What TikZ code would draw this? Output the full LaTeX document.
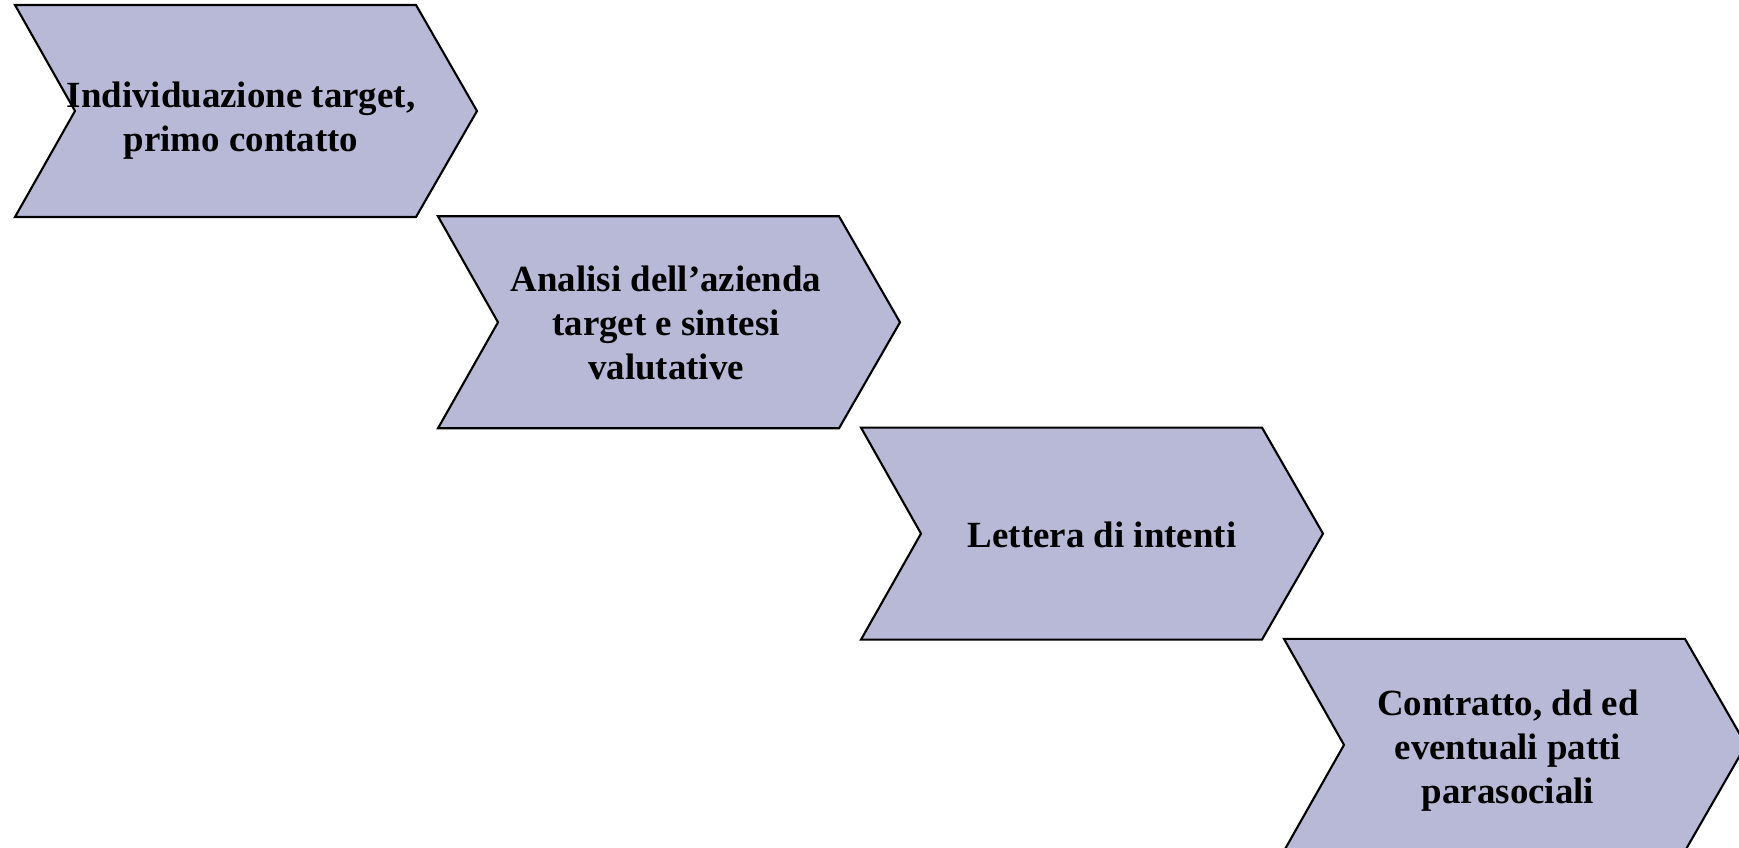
\documentclass[tikz,border=0pt]{standalone}
\usepackage{fontspec}
\setmainfont{Liberation Serif}
\definecolor{chevronfill}{RGB}{183,185,214}
\tikzset{
    chevron/.style={draw=black, fill=chevronfill, line width=1.2pt, line join=miter},
    fasetext/.style={align=center, inner sep=0pt, font=\bfseries\fontsize{21}{25}\selectfont}
}
\begin{document}
\begin{tikzpicture}[x=0.02cm, y=-0.02cm]
    % page:
    \useasboundingbox (0,0) rectangle (1739,848);

    % chevrons and texts:
    \foreach \i/\dx/\dy/\testo in {0/-7/6/{Individuazione target,\\primo contatto},
                                  1/-5/-3/{Analisi dell’azienda\\target e sintesi\\valutative},
                                  2/8/-3/{Lettera di intenti},
                                  3/-9/2/{Contratto, dd ed\\eventuali patti\\parasociali}} {
        \pgfmathsetmacro{\L}{15+423*\i}
        \pgfmathsetmacro{\T}{5+211.3*\i}
        \draw[chevron] (\L,\T) -- (\L+401,\T) -- (\L+462,\T+106)
            -- (\L+401,\T+212) -- (\L,\T+212) -- (\L+60,\T+106) -- cycle;
        \node[fasetext] (fase\i) at (\L+233+\dx,\T+110+\dy) {\testo};
    }
\end{tikzpicture}
\end{document}
